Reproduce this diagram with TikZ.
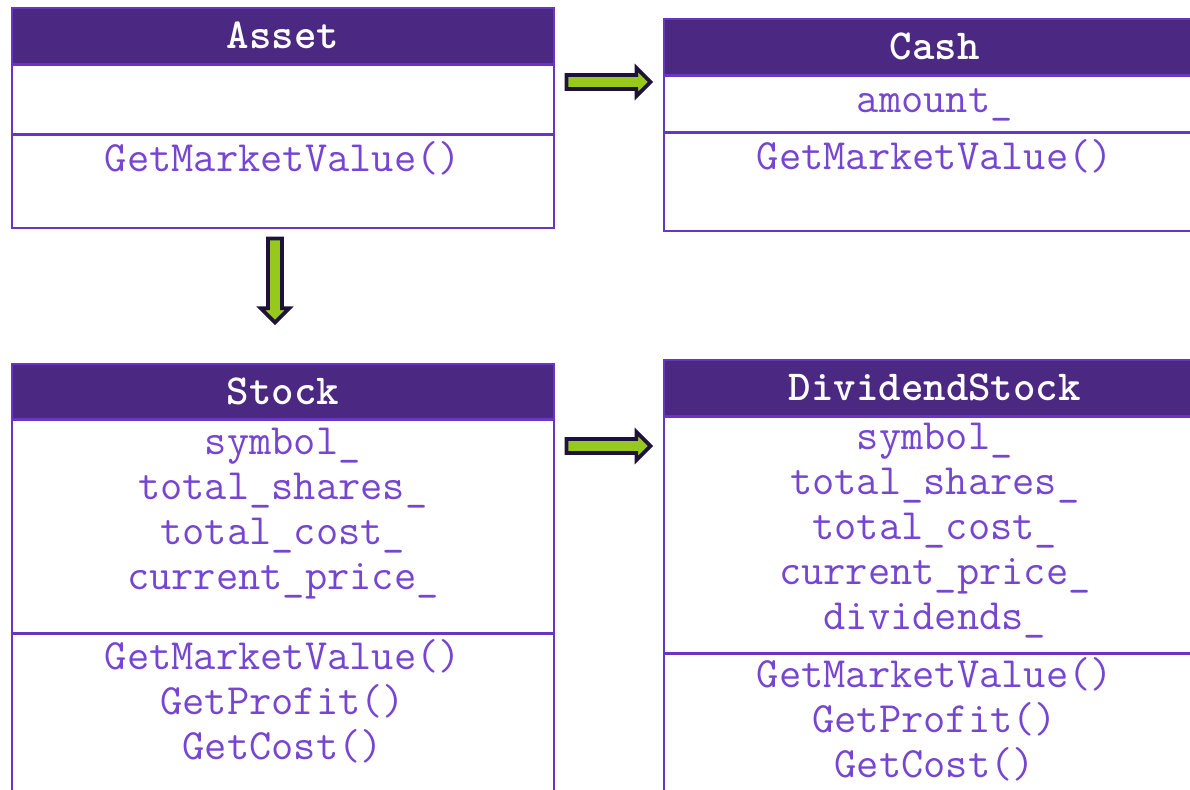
\documentclass[tikz,border=0pt]{standalone}
\usepackage{fontspec}
\usetikzlibrary{positioning,shapes.arrows}

\definecolor{umlhead}{RGB}{75,41,131}
\definecolor{umlline}{RGB}{106,52,196}
\definecolor{umltext}{RGB}{118,70,210}
\definecolor{arrowfill}{RGB}{150,200,30}
\definecolor{arrowline}{RGB}{30,18,60}

\begin{document}
\begin{tikzpicture}[x=0.5pt,y=-0.5pt,
    head/.style={draw=umlline, fill=umlhead, line width=0.8pt, text=white,
      font=\ttfamily\bfseries\fontsize{21.4}{24}\selectfont,
      minimum width=271pt, minimum height=28pt, anchor=north west, inner sep=0pt},
    part/.style={draw=umlline, line width=0.8pt, minimum width=271pt, inner sep=0pt},
    members/.style={text=umltext, font=\ttfamily\fontsize{21.6}{22.5}\selectfont,
      align=center, inner sep=0pt, execute at begin node=\strut},
    fatarrow/.style={single arrow, draw=arrowline, fill=arrowfill, line width=1.8pt,
      minimum height=42pt, inner sep=2.6pt, single arrow head extend=3.6pt}]
    \clip (0,0) rectangle (1190,790);

    % Asset
    \node[head] (assetH) at (11,7) {Asset};
    \node[part, minimum height=34pt, below=0pt of assetH] (assetA) {};
    \node[part, minimum height=46.5pt, below=0pt of assetA] (assetM) {};
    \node[members, below=2.75pt of assetM.north] (assetMt) {GetMarketValue()};

    % Cash
    \node[head] (cashH) at (663,18) {Cash};
    \node[part, minimum height=27.5pt, below=0pt of cashH] (cashA) {};
    \node[part, minimum height=49pt, below=0pt of cashA] (cashM) {};
    \node[members, below=2.5pt of cashA.north] (cashAt) {amount\_};
    \node[members, below=2.5pt of cashM.north] (cashMt) {GetMarketValue()};

    % Stock
    \node[head, minimum height=27.5pt] (stockH) at (11,363) {Stock};
    \node[part, minimum height=106pt, below=0pt of stockH] (stockA) {};
    \node[part, minimum height=85pt, below=0pt of stockA] (stockM) {};
    \node[members, below=4pt of stockA.north] (stockAt)
      {symbol\_\\total\_shares\_\\total\_cost\_\\current\_price\_};
    \node[members, below=2.75pt of stockM.north] (stockMt)
      {GetMarketValue()\\GetProfit()\\GetCost()};

    % DividendStock
    \node[head] (divH) at (663,359) {DividendStock};
    \node[part, minimum height=117.5pt, below=0pt of divH] (divA) {};
    \node[part, minimum height=75pt, below=0pt of divA] (divM) {};
    \node[members, below=3.25pt of divA.north] (divAt)
      {symbol\_\\total\_shares\_\\total\_cost\_\\current\_price\_\\dividends\_};
    \node[members, below=2pt of divM.north] (divMt)
      {GetMarketValue()\\GetProfit()\\GetCost()};

    % arrows
    \node[fatarrow] (toCash) at (605,82) {};
    \node[fatarrow, shape border rotate=270] (toStock) at (275,277) {};
    \node[fatarrow] (toDiv) at (605,446) {};
\end{tikzpicture}
\end{document}
